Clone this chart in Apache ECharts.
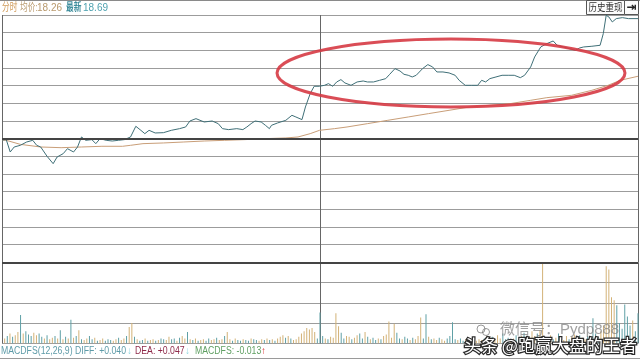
<!DOCTYPE html>
<html>
<head>
<meta charset="utf-8">
<script src="https://cdn.jsdelivr.net/npm/echarts@6/dist/echarts.min.js"></script>
<style>
html,body{margin:0;padding:0;background:#fff;}
#chart{width:640px;height:361px;}
</style>
</head>
<body>
<div id="chart"></div>
<script>
// ---- data ----
const preClose = 17.80;
const avgPriceLabel = '18.26';
const lastPriceLabel = '18.69';
const macdLabels = ['MACDFS(12,26,9) DIFF: +0.040', 'DEA: +0.047', 'MACDFS: -0.013'];

const priceMinutes = [
  0, 1.6, 3.1, 4.6, 6.9, 9.3, 11.6, 13.1, 14.6, 17.0,
  19.3, 20.8, 23.1, 24.7, 27.0, 28.5, 30.0, 31.6, 33.9, 35.4,
  37.0, 39.3, 41.6, 43.9, 46.2, 48.5, 50.5, 52.4, 53.9, 55.5,
  57.8, 60.9, 63.9, 67.0, 69.3, 70.9, 73.2, 76.3, 79.3, 81.6,
  83.2, 85.5, 88.6, 90.9, 92.4, 94.0, 95.5, 97.8, 99.4, 100.9,
  101.7, 104.0, 107.1, 109.4, 110.9, 113.2, 114.5, 116.3, 117.8, 119.8,
  121.7, 123.2, 124.8, 126.3, 127.9, 129.4, 131.7, 134.0, 136.3, 137.9,
  140.2, 142.5, 144.8, 146.3, 148.3, 150.2, 151.7, 153.3, 154.8, 156.3,
  158.7, 160.7, 162.5, 164.1, 166.4, 168.7, 171.0, 172.5, 174.8, 177.2,
  179.5, 181.0, 182.5, 184.1, 186.4, 188.7, 191.0, 193.3, 195.6, 197.2,
  199.5, 201.0, 203.3, 205.6, 208.0, 209.5, 211.8, 214.1, 216.4, 218.0,
  219.5, 222.6, 225.7, 226.9, 228.0, 229.0, 230.3, 231.8, 234.1, 236.4,
  240
];
const prices = [
  17.790, 17.793, 17.704, 17.740, 17.752, 17.776, 17.788, 17.752, 17.740, 17.673,
  17.620, 17.668, 17.692, 17.728, 17.704, 17.740, 17.812, 17.788, 17.793, 17.764,
  17.800, 17.788, 17.783, 17.788, 17.793, 17.812, 17.889, 17.860, 17.836, 17.860,
  17.841, 17.843, 17.860, 17.872, 17.884, 17.927, 17.944, 17.920, 17.927, 17.908,
  17.872, 17.865, 17.872, 17.865, 17.884, 17.908, 17.927, 17.920, 17.896, 17.872,
  17.896, 17.913, 17.932, 17.968, 17.956, 17.937, 18.028, 18.124, 18.177, 18.177,
  18.184, 18.196, 18.177, 18.208, 18.225, 18.201, 18.184, 18.208, 18.215, 18.208,
  18.208, 18.220, 18.232, 18.263, 18.304, 18.287, 18.263, 18.256, 18.244, 18.256,
  18.304, 18.333, 18.316, 18.280, 18.280, 18.273, 18.256, 18.220, 18.184, 18.184,
  18.184, 18.220, 18.208, 18.232, 18.244, 18.256, 18.256, 18.256, 18.239, 18.256,
  18.316, 18.388, 18.460, 18.484, 18.503, 18.472, 18.460, 18.448, 18.436, 18.453,
  18.460, 18.465, 18.472, 18.556, 18.688, 18.676, 18.640, 18.664, 18.671, 18.664,
  18.664
];

const avgMinutes = [
  0, 1.6, 6.9, 14.6, 22.3, 30, 37.7, 45.5, 48.5, 53.2,
  60.9, 68.6, 76.3, 84, 91.7, 99.4, 107.1, 111.7, 116.3, 119.8,
  125.5, 130.2, 137.9, 145.6, 153.3, 160.9, 168.7, 176.4, 184.1, 191.8,
  199.5, 205.6, 214.9, 222.6, 228.7, 233.3, 240
];
const avgPrices = [
  17.790, 17.788, 17.759, 17.740, 17.735, 17.740, 17.745, 17.745, 17.752, 17.764,
  17.769, 17.776, 17.783, 17.788, 17.793, 17.800, 17.805, 17.812, 17.836, 17.860,
  17.872, 17.884, 17.908, 17.932, 17.956, 17.980, 18.004, 18.028, 18.040, 18.052,
  18.076, 18.095, 18.112, 18.148, 18.184, 18.220, 18.249
];

// volume per minute (minute 1..240), relative units
const volumes = [
  6, 9, 12, 8, 10, 14, 35, 12, 15, 11,
  9, 13, 10, 12, 8, 6, 10, 5, 7, 9,
  6, 16, 5, 8, 6, 29, 7, 9, 16, 5,
  4, 6, 9, 5, 7, 3, 4, 6, 3, 5,
  4, 3, 5, 7, 4, 6, 9, 20, 25, 8,
  5, 3, 4, 6, 3, 4, 5, 3, 4, 6,
  5, 4, 8, 5, 6, 3, 7, 9, 6, 14,
  5, 4, 6, 3, 4, 5, 3, 6, 4, 5,
  7, 4, 5, 9, 14, 5, 3, 6, 4, 3,
  5, 4, 3, 6, 5, 4, 3, 5, 4, 6,
  4, 5, 3, 6, 8, 10, 7, 9, 6, 4,
  5, 8, 12, 15, 19, 17, 19, 14, 6, 38,
  9, 6, 5, 8, 7, 37, 21, 13, 6, 9,
  8, 5, 7, 10, 12, 6, 14, 8, 5, 7,
  4, 6, 5, 9, 11, 27, 7, 24, 13, 6,
  5, 8, 6, 4, 7, 5, 9, 32, 6, 36,
  8, 5, 6, 4, 7, 5, 3, 6, 9, 26,
  5, 4, 6, 3, 5, 7, 4, 6, 3, 5,
  4, 6, 9, 5, 8, 4, 10, 6, 12, 5,
  7, 4, 6, 10, 5, 9, 13, 6, 8, 15,
  9, 12, 16, 99, 8, 6, 10, 5, 7, 12,
  6, 4, 9, 5, 8, 11, 6, 10, 7, 5,
  9, 6, 31, 12, 8, 15, 22, 95, 91, 57,
  53, 47, 25, 18, 48, 33, 22, 28, 15, 37
];
// tick direction per minute: u = up, d = down
const volumeDirs = [
  'ududuududd', 'duudduduud', 'ududududud', 'uudduduudd', 'duuduuduud', 'udduduudud',
  'duudduduud', 'ududuudduu', 'duuduududd', 'uddudduudu', 'duduuududu', 'uuuuuuuudd',
  'duduuuuddu', 'uduuddudud', 'duduuuuudd', 'udduduuudd', 'uduuduuddd', 'dudduudduu',
  'ududduuudd', 'duuddudduu', 'uduuddudud', 'duuduudduu', 'duddduuuuu', 'uddddddudd'
].join('');

// ---- chart ----
const P_MIN = +(preClose * 0.95).toFixed(2);
const P_MAX = +(preClose * 1.05).toFixed(2);
const UP = '#d3b277', DOWN = '#5fa0a6';
const FONT = '"Liberation Sans", "Noto Sans CJK SC", sans-serif';
const GRID_LINE = '#9c9c9c';

const priceData = priceMinutes.map((m, i) => [m, prices[i]]);
const avgData = avgMinutes.map((m, i) => [m, avgPrices[i]]);
const volData = volumes.map((v, i) => ({
  value: [i + 1, v],
  itemStyle: { color: volumeDirs[i] === 'u' ? UP : DOWN }
}));

const chart = echarts.init(document.getElementById('chart'), null, { renderer: 'canvas' });

const xCommon = {
  type: 'value', min: 0, max: 240, interval: 120,
  axisLine: { show: false }, axisTick: { show: false }, axisLabel: { show: false },
  splitLine: { show: true, lineStyle: { color: '#666666', width: 1 } }
};

function txt(x, y, text, font, fill, scaleX, extra) {
  return Object.assign({
    type: 'text', x: x, y: y, scaleX: scaleX || 1, silent: true,
    style: { text: text, font: font, fill: fill, verticalAlign: 'middle' }
  }, extra || {});
}

chart.setOption({
  animation: false,
  backgroundColor: '#ffffff',
  grid: [
    { left: 2, right: 2, top: 15, height: 247.3 },
    { left: 2, right: 2, top: 262.3, height: 81 }
  ],
  xAxis: [
    Object.assign({ gridIndex: 0 }, xCommon),
    Object.assign({ gridIndex: 1 }, xCommon)
  ],
  yAxis: [
    { gridIndex: 0, type: 'value', min: P_MIN, max: P_MAX, show: false, splitLine: { show: false } },
    { gridIndex: 0, type: 'value', min: 0, max: 14, interval: 1,
      axisLine: { show: false }, axisTick: { show: false }, axisLabel: { show: false },
      splitLine: { show: true, lineStyle: { color: GRID_LINE, width: 1 } } },
    { gridIndex: 1, type: 'value', min: 0, max: 100, interval: 25,
      axisLine: { show: false }, axisTick: { show: false }, axisLabel: { show: false },
      splitLine: { show: true, lineStyle: { color: GRID_LINE, width: 1 } } }
  ],
  series: [
    {
      type: 'line', xAxisIndex: 0, yAxisIndex: 0, data: avgData,
      showSymbol: false, symbol: 'none', z: 3,
      lineStyle: { color: '#c99e78', width: 1 },
      markLine: {
        silent: true, symbol: 'none', label: { show: false },
        lineStyle: { color: '#444444', width: 2, type: 'solid' },
        data: [{ yAxis: preClose }, { yAxis: P_MIN }]
      }
    },
    {
      type: 'line', xAxisIndex: 0, yAxisIndex: 0, data: priceData,
      showSymbol: false, symbol: 'none', z: 4,
      lineStyle: { color: '#3f6f77', width: 1 }
    },
    {
      type: 'bar', xAxisIndex: 1, yAxisIndex: 2, data: volData,
      barWidth: 1, z: 3
    }
  ],
  graphic: [
    // header frame
    { type: 'line', shape: { x1: 0, y1: 0.5, x2: 640, y2: 0.5 }, style: { stroke: '#8a8a8a', lineWidth: 1 }, silent: true },
    txt(2, 8, '分时', '11px ' + FONT, '#d09a58', 0.7),
    txt(20, 8, '均价:', '11px ' + FONT, '#b99a6e', 0.7),
    txt(37, 8, avgPriceLabel, '10px ' + FONT, '#b99a6e'),
    txt(66, 8, '最新', 'bold 11px ' + FONT, '#3e8d9c', 0.7),
    txt(83, 8, lastPriceLabel, '10px ' + FONT, '#4ea2b0'),
    { type: 'rect', shape: { x: 586.5, y: 0.5, width: 38, height: 14 }, style: { fill: '#fbfbfb', stroke: '#555', lineWidth: 1 }, silent: true },
    { type: 'text', x: 605.5, y: 8, scaleX: 0.85, silent: true, style: { text: '历史重现', font: '10px ' + FONT, fill: '#333', align: 'center', verticalAlign: 'middle' } },
    { type: 'rect', shape: { x: 624.5, y: 0.5, width: 14, height: 14 }, style: { fill: '#fbfbfb', stroke: '#555', lineWidth: 1 }, silent: true },
    { type: 'text', x: 631.5, y: 8, silent: true, style: { text: '⇥', font: 'bold 12px "DejaVu Sans"', fill: '#222', align: 'center', verticalAlign: 'middle' } },
    // red annotation ellipse
    { type: 'ellipse', shape: { cx: 451, cy: 73, rx: 174, ry: 34 }, style: { fill: 'none', stroke: '#d63a44', lineWidth: 3, opacity: 0.9 }, z: 20, silent: true },
    // MACD caption row
    txt(1, 351, macdLabels[0], '10px ' + FONT, '#5e9ba8', 0.87),
    txt(127, 351, '↓', '10px ' + FONT, '#8fd6df'),
    txt(135, 351, macdLabels[1], '10px ' + FONT, '#8e2a4a', 0.87),
    txt(185, 351, '↓', '10px ' + FONT, '#8fd6df'),
    txt(195, 351, macdLabels[2], '10px ' + FONT, '#5f9f62', 0.87),
    txt(261, 351, '↑', 'bold 10px ' + FONT, '#d82b2b'),
    { type: 'line', shape: { x1: 0, y1: 358.5, x2: 640, y2: 358.5 }, style: { stroke: '#9a9a9a', lineWidth: 1 }, silent: true },
    // watermarks
    { type: 'circle', shape: { cx: 481, cy: 329, r: 4 }, style: { fill: 'none', stroke: 'rgba(110,110,110,0.7)', lineWidth: 1 }, z: 30, silent: true },
    { type: 'circle', shape: { cx: 486, cy: 332, r: 3.5 }, style: { fill: 'none', stroke: 'rgba(110,110,110,0.7)', lineWidth: 1 }, z: 30, silent: true },
    txt(500, 330, '微信号：Pydp888', '15px ' + FONT, 'rgba(130,130,130,0.75)', 1, { z: 30 }),
    { type: 'text', x: 464, y: 346, z: 31, silent: true, style: { text: '头条 @跑赢大盘的王者', font: '17px "Noto Sans CJK SC", sans-serif', fill: '#ffffff', stroke: '#2a2a2a', lineWidth: 2.5, verticalAlign: 'middle' } }
  ]
});
</script>
</body>
</html>
